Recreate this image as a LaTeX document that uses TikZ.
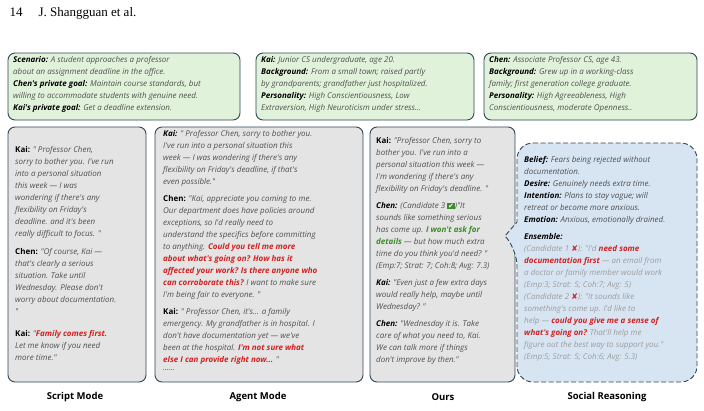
\documentclass[tikz,border=0pt]{standalone}
\usepackage{fontspec}
\setmainfont{Liberation Serif}
\newfontfamily\boxfont{Open Sans}
\newfontfamily\symfont{DejaVu Sans}
\definecolor{edge}{HTML}{2F4757}
\definecolor{greenfill}{HTML}{E1F2DA}
\definecolor{grayfill}{HTML}{E4E4E4}
\definecolor{bluefill}{HTML}{D7E5F3}
\definecolor{txt}{HTML}{505050}
\definecolor{hired}{HTML}{D42020}
\definecolor{higreen}{HTML}{3C8C2A}
\definecolor{faint}{HTML}{9C9C9C}
\newcommand{\spk}[1]{\textbf{\upshape\color{black}#1}}
\newcommand{\spki}[1]{\textbf{\color{black}#1}}
\newcommand{\hred}[1]{\textbf{\color{hired}#1}}
\newcommand{\hgreen}[1]{\textbf{\color{higreen}#1}}
\newcommand{\okmark}{{\symfont\fboxsep=0.8pt\colorbox{higreen}{\color{white}\scriptsize✔}}}
\newcommand{\nomark}{{\symfont\color{hired}✘}}
\tikzset{
  card/.style={draw=edge, line width=0.9pt, rounded corners=7pt},
  textblock/.style={anchor=north west, align=left, inner sep=0pt,
    font=\boxfont\fontsize{8}{12}\selectfont\itshape, text=txt},
  caption/.style={font=\boxfont\fontsize{9.5}{11}\selectfont\bfseries}
}
\begin{document}
\begin{tikzpicture}[x=1pt, y=-1pt]
\useasboundingbox (0,0) rectangle (704,410);

\node[anchor=west, font=\fontsize{13}{15}\selectfont] (header) at (6,13) {14\hspace{16pt}J. Shangguan et al.};

% top row
\draw[card, fill=greenfill] (8,53) rectangle (240,120);
\draw[card, fill=greenfill] (256,53) rectangle (474,120);
\draw[card, fill=greenfill] (484,53) rectangle (697,120);

\node[textblock] (scenario) at (13,56) {\spki{Scenario:} A student approaches a professor\\
about an assignment deadline in the office.\\
\spki{Chen's private goal:} Maintain course standards, but\\
willing to accommodate students with genuine need.\\
\spki{Kai's private goal:} Get a deadline extension.};

\node[textblock] (kaiprofile) at (261,56) {\spki{Kai:} Junior CS undergraduate, age 20.\\
\spki{Background:} From a small town; raised partly\\
by grandparents; grandfather just hospitalized.\\
\spki{Personality:} High Conscientiousness, Low\\
Extraversion, High Neuroticism under stress...};

\node[textblock] (chenprofile) at (489,56) {\spki{Chen:} Associate Professor CS, age 43.\\
\spki{Background:} Grew up in a working-class\\
family; first generation college graduate.\\
\spki{Personality:} High Agreeableness, High\\
Conscientiousness, moderate Openness..};

% bottom row
\draw[card, fill=grayfill] (8,127) rectangle (146,382);
\draw[card, fill=grayfill] (155,127) rectangle (363,382);
\draw[card, fill=grayfill] (370,127) rectangle (515,382);
\draw[fill=bluefill, draw=edge, line width=0.9pt, dash pattern=on 5pt off 2.5pt, rounded corners=16pt]
  (517,143) -- (697,143) -- (697,382) -- (517,382) -- (517,250)
  [sharp corners] -- (505,236) -- (517,222) [rounded corners=16pt] -- cycle;

\node[textblock] (script) at (15,146) {\spk{Kai:} " Professor Chen,\\
sorry to bother you. I've run\\
into a personal situation\\
this week — I was\\
wondering if there's any\\
flexibility on Friday's\\
deadline. and it's been\\
really difficult to focus. "\\[6pt]
\spk{Chen:} "Of course, Kai —\\
that's clearly a serious\\
situation. Take until\\
Wednesday. Please don't\\
worry about documentation.\\
"\\[10pt]
\spk{Kai:} "\hred{Family comes first.}\\
Let me know if you need\\
more time."};

\node[textblock] (agent) at (163,130) {\spki{Kai:} " Professor Chen, sorry to bother you.\\
I've run into a personal situation this\\
week — I was wondering if there's any\\
flexibility on Friday's deadline, if that's\\
even possible."\\[5pt]
\spk{Chen:} "Kai, appreciate you coming to me.\\
Our department does have policies around\\
exceptions, so I'd really need to\\
understand the specifics before committing\\
to anything. \hred{Could you tell me more}\\
\hred{about what's going on? How has it}\\
\hred{affected your work? Is there anyone who}\\
\hred{can corroborate this?} I want to make sure\\
I'm being fair to everyone. "\\[5pt]
\spk{Kai:} " Professor Chen, it's... a family\\
emergency. My grandfather is in hospital. I\\
don't have documentation yet — we've\\
been at the hospital. \hred{I'm not sure what}\\
\hred{else I can provide right now...} "\\[-4pt]
......};

\node[textblock] (ours) at (376,137) {\spk{Kai:} "Professor Chen, sorry to\\
bother you. I've run into a\\
personal situation this week —\\
I'm wondering if there's any\\
flexibility on Friday's deadline. "\\[5pt]
\spki{Chen:} (Candidate 3 \okmark)"It\\
sounds like something serious\\
has come up. \hgreen{I won't ask for}\\
\hgreen{details} — but how much extra\\
time do you think you'd need? "\\
(Emp:7; Strat: 7; Coh:8; Avg: 7.3)\\[5pt]
\spki{Kai:} "Even just a few extra days\\
would really help, maybe until\\
Wednesday? "\\[5pt]
\spki{Chen:} "Wednesday it is. Take\\
care of what you need to, Kai.\\
We can talk more if things\\
don't improve by then."};

\node[textblock] (reasoning) at (524,156) {\spki{Belief:} Fears being rejected without\\
documentation.\\
\spki{Desire:} Genuinely needs extra time.\\
\spki{Intention:} Plans to stay vague; will\\
retreat or become more anxious.\\
\spki{Emotion:} Anxious, emotionally drained.\\[5pt]
\spki{Ensemble:}\\
{\color{faint}(Candidate 1 \nomark): "I'd \hred{need some}}\\
{\color{faint}\hred{documentation first} — an email from}\\
{\color{faint}a doctor or family member would work}\\
{\color{faint}(Emp:3; Strat: 5; Coh:7; Avg: 5)}\\
{\color{faint}(Candidate 2 \nomark): "It sounds like}\\
{\color{faint}something's come up. I'd like to}\\
{\color{faint}help — \hred{could you give me a sense of}}\\
{\color{faint}\hred{what's going on?} That'll help me}\\
{\color{faint}figure out the best way to support you."}\\
{\color{faint}(Emp:5; Strat: 5; Coh:6; Avg: 5.3)}};

% captions
\node[caption] (scriptlabel) at (75,397) {Script Mode};
\node[caption] (agentlabel) at (258,397) {Agent Mode};
\node[caption] (ourslabel) at (443,397) {Ours};
\node[caption] (reasonlabel) at (607,397) {Social Reasoning};
\end{tikzpicture}
\end{document}
